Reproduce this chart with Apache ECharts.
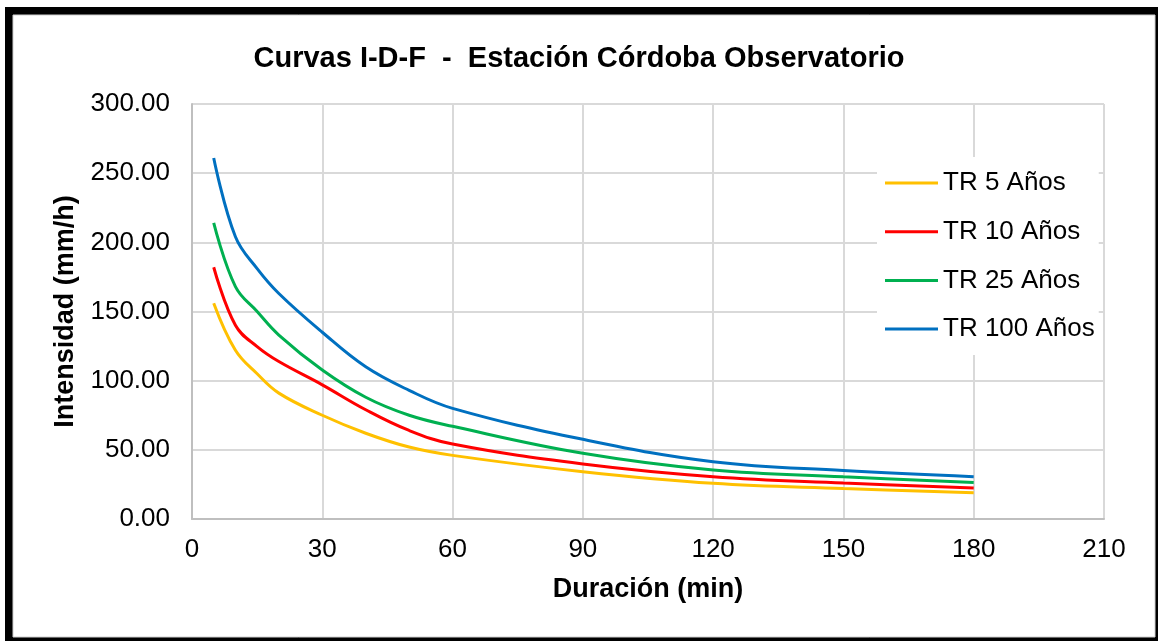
<!DOCTYPE html>
<html><head><meta charset="utf-8">
<script src="https://cdn.jsdelivr.net/npm/echarts@6/dist/echarts.min.js"></script>
<style>html,body{margin:0;padding:0;background:#fff}#c{width:1158px;height:641px}</style>
</head><body><div id="c"></div>
<script>
const durations = [5, 10, 15, 20, 30, 40, 50, 60, 90, 120, 150, 180];
const tr5   = [156, 122, 105, 91, 75, 62, 52, 46, 34.2, 25.8, 22, 19];
const tr10  = [182, 140, 124.6, 113.8, 97, 79, 64, 54.2, 39.8, 30.6, 26, 22.4];
const tr25  = [214, 168, 150, 133, 107.7, 88, 75, 67, 47.5, 35.4, 30.5, 26.3];
const tr100 = [261, 204, 181, 163, 135, 110, 93, 80, 57.6, 41.4, 35, 30.6];
const seriesNames = ['TR 5 Años', 'TR 10 Años', 'TR 25 Años', 'TR 100 Años'];
const colors = ['#FFC000', '#FF0000', '#00B050', '#0070C0'];
const allData = [tr5, tr10, tr25, tr100];

const chart = echarts.init(document.getElementById('c'));
const font = 'Liberation Sans, Arial, sans-serif';
chart.setOption({
  animation: false,
  backgroundColor: '#fff',
  graphic: [
    {type: 'rect', shape: {x: 5, y: 7, width: 1153, height: 634}, style: {fill: '#000'}, z: -10, silent: true},
    {type: 'rect', shape: {x: 13, y: 15, width: 1142, height: 622}, style: {fill: '#fff', stroke: '#d0d0d0', lineWidth: 1}, z: -9, silent: true}
  ],
  title: {
    text: 'Curvas I-D-F  -  Estación Córdoba Observatorio',
    left: 'center', top: 39,
    textStyle: {fontFamily: font, fontSize: 29, fontWeight: 'bold', color: '#000'}
  },
  grid: {left: 192, right: 54, top: 104, bottom: 122, containLabel: false},
  xAxis: {
    type: 'value', min: 0, max: 210, interval: 30,
    name: 'Duración (min)', nameLocation: 'middle', nameGap: 57,
    nameTextStyle: {fontFamily: font, fontSize: 27, fontWeight: 'bold', color: '#000'},
    axisLine: {show: true, lineStyle: {color: '#bfbfbf', width: 2}},
    axisTick: {show: false},
    axisLabel: {fontFamily: font, fontSize: 26, color: '#000', margin: 18},
    splitLine: {show: true, lineStyle: {color: '#d9d9d9', width: 2}}
  },
  yAxis: {
    type: 'value', min: 0, max: 300, interval: 50,
    name: 'Intensidad (mm/h)', nameLocation: 'middle', nameGap: 113,
    nameTextStyle: {fontFamily: font, fontSize: 27, fontWeight: 'bold', color: '#000'},
    axisLine: {show: true, lineStyle: {color: '#bfbfbf', width: 2}},
    axisTick: {show: false},
    axisLabel: {fontFamily: font, fontSize: 26, color: '#000', margin: 22, formatter: v => v.toFixed(2)},
    splitLine: {show: true, lineStyle: {color: '#d9d9d9', width: 2}}
  },
  legend: {
    orient: 'vertical', left: 877, top: 157,
    backgroundColor: '#fff', padding: [12, 4, 12, 8],
    icon: 'rect', itemWidth: 53, itemHeight: 3, itemGap: 20.7,
    textStyle: {fontFamily: font, fontSize: 26, color: '#000', lineHeight: 28},
    data: seriesNames
  },
  series: allData.map((d, i) => ({
    name: seriesNames[i], type: 'line', smooth: 0.4, showSymbol: false, symbol: 'none',
    lineStyle: {color: colors[i], width: 3}, itemStyle: {color: colors[i]},
    data: durations.map((x, j) => [x, d[j]])
  }))
});
</script></body></html>
